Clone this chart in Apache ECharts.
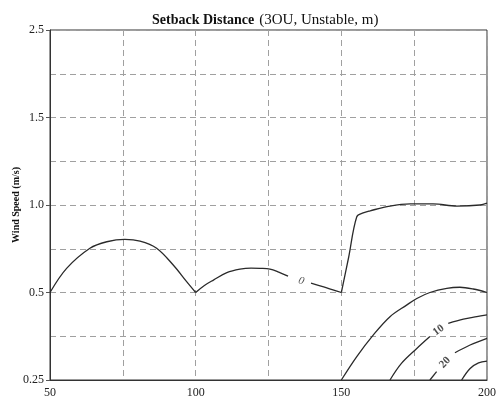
<!DOCTYPE html>
<html><head><meta charset="utf-8">
<script src="https://cdn.jsdelivr.net/npm/echarts@6/dist/echarts.min.js"></script>
<style>html,body{margin:0;padding:0;background:#fff}#c{width:497px;height:400px}</style>
</head><body><div id="c"></div>
<script>
// Y tick labels (equally spaced on the axis)
const yTickLabels = ['0.25', '0.5', '1.0', '1.5', '2.5'];
const yTickValues = [0.25, 0.5, 1.0, 1.5, 2.5];
const xTickLabels = [50, 100, 150, 200];

// Contour segments: [distance, wind speed]
const c0_a = [[50,0.5],[55.7,0.638],[63.7,0.753],[69.5,0.79],[75.7,0.804],[80.9,0.794],[86.6,0.753],[92.3,0.657],[96.9,0.562],[100,0.5]];
const c0_b = [[100,0.5],[103,0.54],[106.1,0.571],[110.7,0.613],[115.2,0.633],[119,0.639],[122.1,0.638],[125.5,0.634],[128.5,0.617],[131.7,0.594]];
const c0_c = [[139.6,0.554],[145,0.527],[150,0.5]];
const c0_d = [[150,0.5],[152.5,0.70],[155.3,0.933],[157.5,0.955],[159.9,0.967],[166.7,0.994],[173.6,1.006],[181.5,1.006],[189.7,0.994],[197.6,1.0],[200,1.011]];
const c5 = [[150,0.25],[155.3,0.317],[161,0.379],[166.7,0.431],[172.4,0.464],[175.9,0.483],[180.4,0.5],[186.2,0.524],[190.7,0.53],[195.3,0.52],[200,0.5]];
const c10_a = [[166.7,0.25],[170.7,0.298],[175.9,0.34],[180.4,0.374]];
const c10_b = [[186.7,0.412],[191.9,0.424],[196.5,0.431],[200,0.436]];
const c20_a = [[180.4,0.25],[182.7,0.274]];
const c20_b = [[189,0.328],[194.2,0.35],[200,0.369]];
const c30 = [[191.3,0.25],[194.2,0.283],[197.1,0.299],[200,0.304]];

// Contour labels: [distance, wind speed, text, angle]
const contourLabels = [[136.2,0.566,'0',-17],[183.4,0.392,'10',36],[185.6,0.30,'20',46]];

// map wind speed onto the piecewise axis (index of tick)
function toAxis(ws){
  for (let i = 0; i < yTickValues.length - 1; i++) {
    const a = yTickValues[i], b = yTickValues[i+1];
    if (ws <= b || i === yTickValues.length - 2) return i + (ws - a) / (b - a);
  }
}
const conv = arr => arr.map(p => [p[0], toAxis(p[1])]);

const lineStyle = {color:'#2a2a2a', width:1.3};
const segs = [c0_a, c0_b, c0_c, c0_d, c5, c10_a, c10_b, c20_a, c20_b, c30];
const series = segs.map(s => ({
  type:'line', data: conv(s), smooth:0.35, showSymbol:false, symbol:'none',
  lineStyle, silent:true, animation:false, z:3
}));
series.push({
  type:'scatter', symbolSize:0, animation:false, silent:true, z:4,
  data: contourLabels.map(l => ({value:[l[0], toAxis(l[1])], name:l[2],
    label:{show:true, position:'inside', formatter:l[2], rotate:l[3],
      fontFamily:'Liberation Serif', fontSize:11, fontWeight: l[2]==='0' ? 'normal' : 'bold',
      fontStyle: l[2]==='0' ? 'italic' : 'normal', color:'#222'}}))
});

const chart = echarts.init(document.getElementById('c'), null, {renderer:'canvas'});
chart.setOption({
  animation:false,
  backgroundColor:'#fff',
  title:{
    text:'{b|Setback Distance} {n|(3OU, Unstable, m)}',
    left:147, top:6,
    textStyle:{fontWeight:'normal', rich:{
      b:{fontFamily:'Liberation Serif', fontWeight:'bold', fontSize:14, color:'#111'},
      n:{fontFamily:'Liberation Serif', fontWeight:'normal', fontSize:15, color:'#111'}
    }}
  },
  grid:{left:50, right:10, top:30, bottom:20, outerBoundsMode:'none', containLabel:false,
        show:true, borderColor:'#333', borderWidth:1, backgroundColor:'transparent'},
  xAxis:{
    type:'value', min:50, max:200, interval:25,
    axisLine:{show:true, lineStyle:{color:'#333'}},
    axisTick:{show:false},
    axisLabel:{formatter:v => xTickLabels.includes(v) ? String(v) : '', fontFamily:'Liberation Serif', fontSize:12, color:'#222', margin:7},
    splitLine:{show:true, lineStyle:{color:'#a0a0a0', type:[6,4], width:1}}
  },
  yAxis:{
    type:'value', min:0, max:4, interval:1,
    name:'Wind Speed (m/s)', nameLocation:'middle', nameGap:29, nameMoveOverlap:false,
    nameTextStyle:{fontFamily:'Liberation Serif', fontWeight:'bold', fontSize:10, color:'#111'},
    axisLine:{show:true, lineStyle:{color:'#333'}},
    axisTick:{show:true, length:4, lineStyle:{color:'#555'}},
    axisLabel:{formatter:v => yTickLabels[Math.round(v)] || '', fontFamily:'Liberation Serif', fontSize:12, color:'#222', margin:6},
    splitLine:{show:true, lineStyle:{color:'#a0a0a0', type:[6,4], width:1}},
    minorTick:{show:false, splitNumber:2},
    minorSplitLine:{show:true, lineStyle:{color:'#a0a0a0', type:[6,4], width:1}}
  },
  series
});
</script></body></html>
